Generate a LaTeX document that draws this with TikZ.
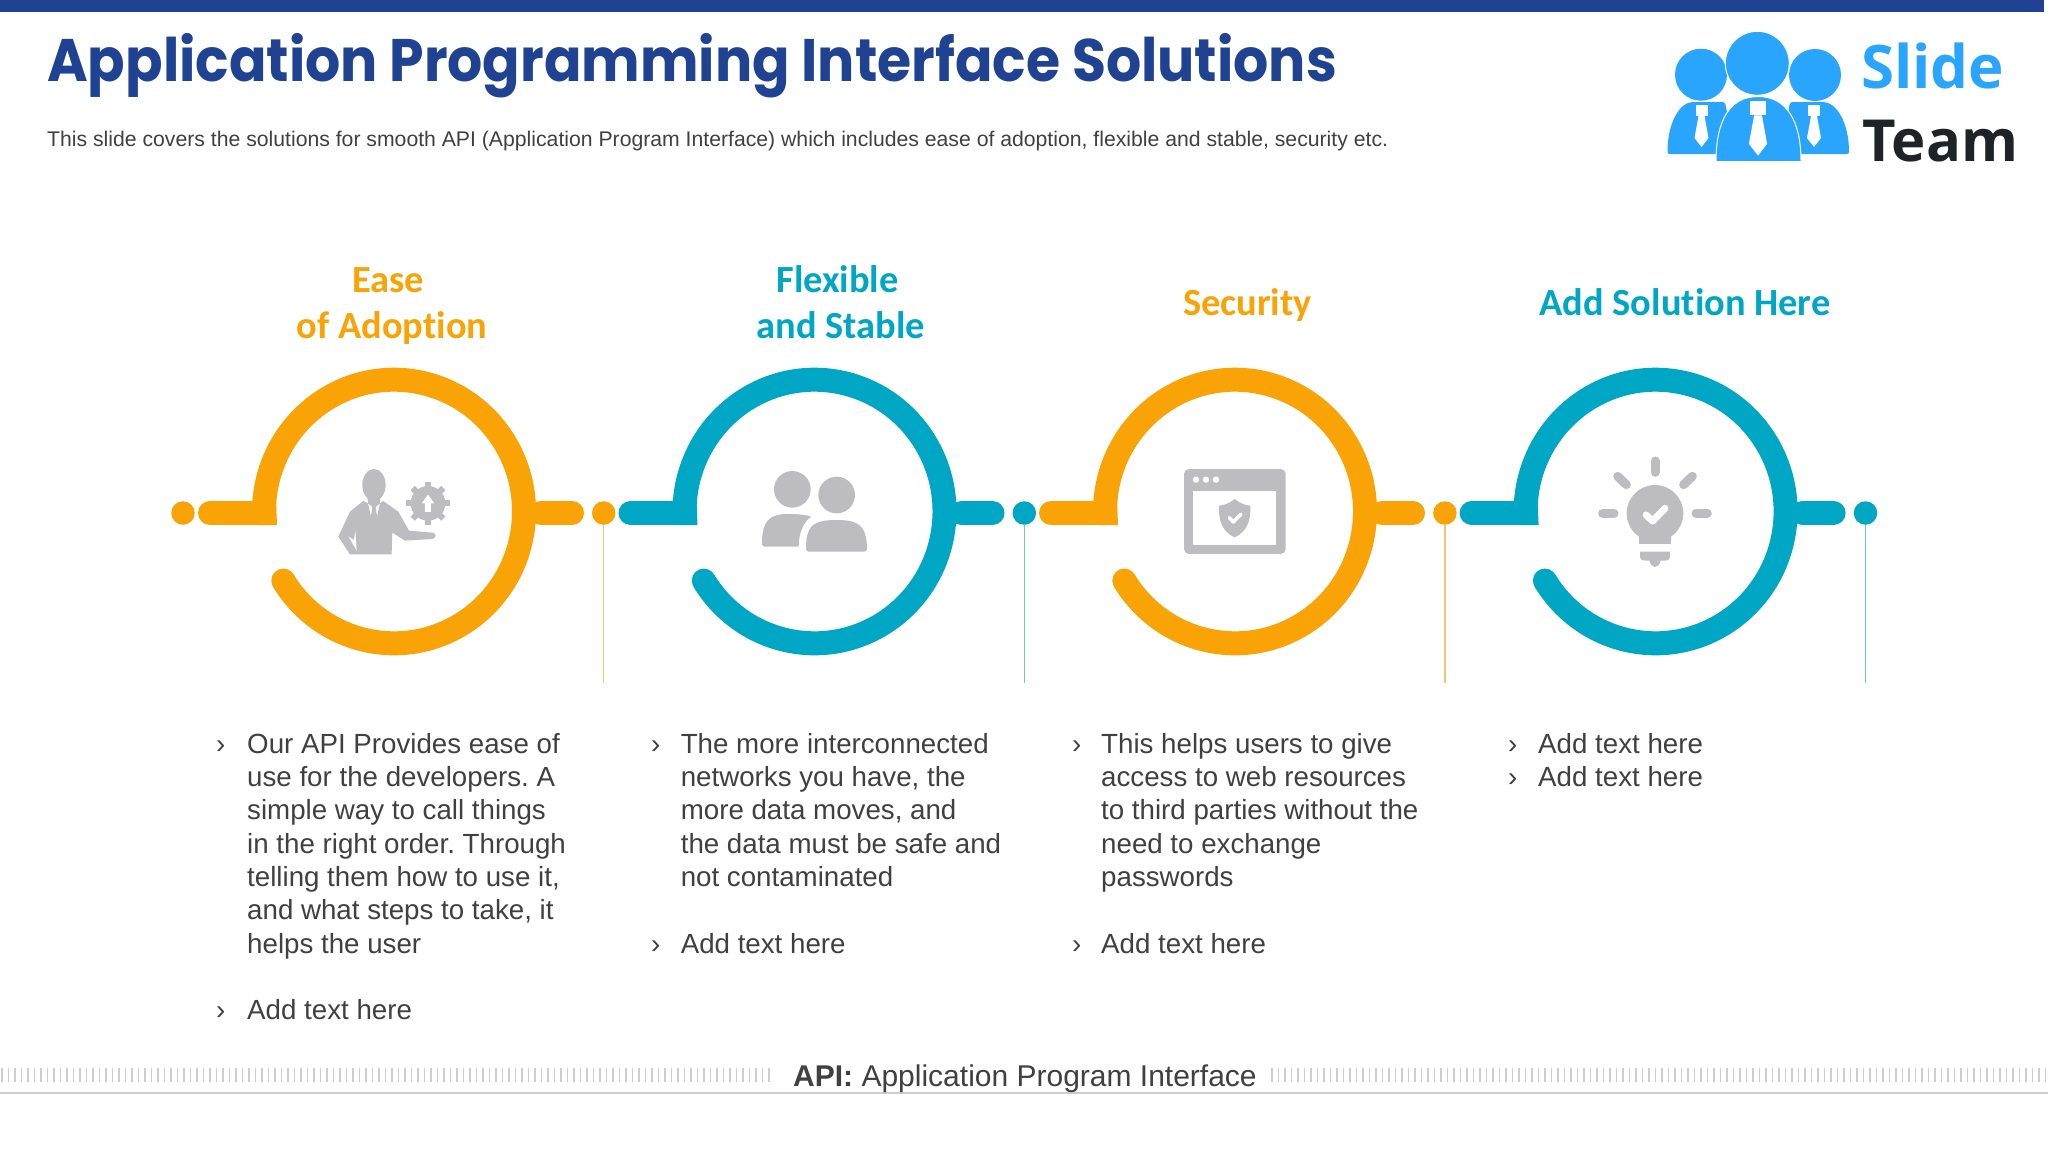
\documentclass[tikz,border=0pt]{standalone}
\usepackage{fontspec}
\frenchspacing
\setmainfont{Liberation Sans}
\newfontfamily\headfont[Ligatures=NoCommon]{Carlito}
\newfontfamily\titlefont[FakeStretch=0.9215]{Poppins}
\newfontfamily\logofont{Open Sans}
\newfontfamily\footfont{Liberation Sans}
\definecolor{brandorange}{HTML}{FAA307}
\definecolor{brandteal}{HTML}{00A7C4}
\definecolor{lineorange}{HTML}{F6C66F}
\definecolor{lineteal}{HTML}{66C9DA}
\definecolor{titleblue}{HTML}{1F4392}
\definecolor{bodygrey}{HTML}{404040}
\definecolor{icongrey}{HTML}{BDBCC0}
\definecolor{logoblue}{HTML}{2AA5FD}
\definecolor{logodark}{HTML}{1E2328}
\definecolor{tickgrey}{HTML}{CFCDD2}
\tikzset{
 ringarc/.style={line width=24pt,line cap=butt},
 barstub/.style={line width=24pt,line cap=round},
 enddot/.style={circle,inner sep=0pt,minimum size=23.5pt},
 dropline/.style={line width=1.4pt},
 headtxt/.style={font=\headfont\fontsize{38.4}{46}\selectfont\bfseries,align=center,anchor=base},
 bodytxt/.style={font=\fontsize{27.7}{33.3}\selectfont,text=bodygrey,align=left,anchor=north west,inner sep=0pt},
 chevtxt/.style={font=\fontsize{27.7}{33.3}\selectfont,text=bodygrey,anchor=base west,inner sep=0pt},
 tick/.style={tickgrey,line width=1.3pt},
}
\newcommand{\ringunit}[2]{%
 \pgfmathsetmacro{\cxa}{#1}
 \pgfmathsetmacro{\sx}{\cxa+130*cos(211.6)}
 \pgfmathsetmacro{\sy}{511.5-131.8*sin(211.6)}
 \draw[ringarc,#2] (\sx,\sy) arc[start angle=211.6,end angle=540,x radius=130pt,y radius=131.8pt];
 \fill[#2] (\sx,\sy) circle (12pt);
 \draw[barstub,#2] (\cxa-184,513) -- (\cxa-135,513);
 \fill[#2] (\cxa-135,501) -- (\cxa-118,501) -- (\cxa-117,525) -- (\cxa-135,525) -- cycle;
 \draw[barstub,#2] (\cxa+147,513) -- (\cxa+178,513);
}
\begin{document}
\begin{tikzpicture}[x=1pt,y=-1pt]
\useasboundingbox (0,0) rectangle (2048,1152);
\fill[white] (0,0) rectangle (2048,1152);
\fill[titleblue] (0,0) rectangle (2044,12);
\node[font=\titlefont\fontsize{60}{60}\selectfont\bfseries,text=titleblue,anchor=base west,inner sep=0pt] (title) at (47,81) {Application Programming Interface Solutions};
\node[font=\fontsize{21.2}{24}\selectfont,text=bodygrey,anchor=base west,inner sep=0pt] (subtitle) at (47,146) {This slide covers the solutions for smooth API (Application Program Interface) which includes ease of adoption, flexible and stable, security etc.};

% logo
\fill[logoblue] (1701,74.7) circle (26);
\fill[logoblue] (1815,75) circle (26);
\fill[logoblue,rounded corners=2pt] (1667.5,154) .. controls (1667.5,122) and (1680,102) .. (1695,102) -- (1725,102) -- (1735,154) -- cycle;
\fill[logoblue,rounded corners=2pt] (1849,154) .. controls (1849,122) and (1836,102) .. (1821,102) -- (1790,102) -- (1781,154) -- cycle;
\fill[logoblue,draw=white,line width=1pt] (1757.3,63.3) circle (32);
\fill[logoblue,draw=white,line width=1pt] (1716,161.5) .. controls (1716,120) and (1730,96.5) .. (1758,96.5) .. controls (1786,96.5) and (1801,120) .. (1801,161.5) -- cycle;
\foreach \tx/\ty/\ts in {1701.5/105/1,1814/105/1,1758/101/1.3}{
 \begin{scope}[shift={(\tx,\ty)},x=\ts pt,y=-\ts pt]
 \fill[white] (-6,0) rectangle (6,11);
 \fill[white] (-3,11) -- (3,11) -- (7,33) -- (0,42) -- (-7,33) -- cycle;
 \end{scope}
}
\node[font=\logofont\fontsize{60}{60}\selectfont\bfseries,text=logoblue,anchor=base west,inner sep=0pt] (slide) at (1861,88) {Slide};
\node[font=\logofont\fontsize{58}{58}\selectfont\bfseries,text=logodark,anchor=base west,inner sep=0pt] (team) at (1862,161) {Team};

% headings
\node[headtxt,text=brandorange] (h1a) at (388,292) {Ease};
\node[headtxt,text=brandorange] (h1b) at (392,338) {of Adoption};
\node[headtxt,text=brandteal] (h2a) at (837.5,292) {Flexible};
\node[headtxt,text=brandteal] (h2b) at (841,338) {and Stable};
\node[headtxt,text=brandorange] (h3) at (1247.5,315) {Security};
\node[headtxt,text=brandteal] (h4) at (1685,315) {Add Solution Here};

% rings
\ringunit{394}{brandorange}
\ringunit{814.5}{brandteal}
\ringunit{1235}{brandorange}
\ringunit{1655.6}{brandteal}

% dots and drop lines
\node[enddot,fill=brandorange] (d0) at (183,513) {};
\node[enddot,fill=brandorange] (d1) at (603.7,513) {};
\node[enddot,fill=brandteal] (d2) at (1024.3,513) {};
\node[enddot,fill=brandorange] (d3) at (1444.9,513) {};
\node[enddot,fill=brandteal] (d4) at (1865.5,513) {};
\coordinate (e1) at (603.7,683);
\coordinate (e2) at (1024.3,683);
\coordinate (e3) at (1444.9,683);
\coordinate (e4) at (1865.5,683);
\draw[dropline,lineorange] (d1) -- (e1);
\draw[dropline,lineteal] (d2) -- (e2);
\draw[dropline,lineorange] (d3) -- (e3);
\draw[dropline,lineteal] (d4) -- (e4);

% icon 1: person and gear
\begin{scope}[shift={(150,340)},x=0.3333pt,y=-0.3333pt]
 \fill[icongrey] (672,435) ellipse [x radius=35pt/3,y radius=48pt/3];
 \fill[icongrey] (652,455) -- (692,455) -- (690,490) -- (672,505) -- (654,490) -- cycle;
 \fill[icongrey] (640,483) -- (600,515) -- (565,590) -- (600,643) -- (725,643) -- (727,578) -- (765,602) -- (848,597) .. controls (860,592) and (860,580) .. (848,578) -- (777,572) -- (745,515) -- (700,483) -- (690,490) -- (672,570) -- (654,490) -- cycle;
 \fill[white] (596,590) -- (620,632) -- (616,572) -- (612,600) -- cycle;
 \fill[icongrey] (664,490) -- (680,490) -- (677,505) -- (686,555) -- (672,570) -- (658,555) -- (667,505) -- cycle;
 \foreach \a in {0,45,...,315}{
  \draw[icongrey,line width=6pt] ({834+40*cos(\a)},{490+40*sin(\a)}) -- ({834+65*cos(\a)},{490+65*sin(\a)});
 }
 \fill[icongrey] (834,490) circle (52);
 \fill[white] (834,464) -- (853,490) -- (843,490) -- (843,516) -- (825,516) -- (825,490) -- (815,490) -- cycle;
\end{scope}

% icon 2: two people
\begin{scope}[shift={(740,450)},x=0.3333pt,y=-0.3333pt]
 \fill[icongrey] (157,118) circle (55);
 \fill[icongrey] (290,135) circle (55);
 \fill[icongrey] (75,290) .. controls (66,290) and (66,285) .. (66,275) .. controls (68,215) and (85,192) .. (145,192) .. controls (175,192) and (195,194) .. (214,200) .. controls (190,215) and (176,250) .. (176,290) -- cycle;
 \fill[icongrey] (206,305) .. controls (198,305) and (198,300) .. (198,290) .. controls (200,230) and (215,210) .. (290,210) .. controls (360,210) and (378,230) .. (381,290) .. controls (381,300) and (381,305) .. (373,305) -- cycle;
\end{scope}

% icon 3: browser with shield
\begin{scope}[shift={(1150,440)},x=0.3333pt,y=-0.3333pt]
 \fill[icongrey,rounded corners=5pt] (102,87) rectangle (407,342);
 \fill[white] (129,152) rectangle (379,316);
 \foreach \dx in {138,168,198}{\fill[white] (\dx,119) circle (9.5);}
 \fill[icongrey] (254,177) .. controls (270,190) and (285,196) .. (301,197) .. controls (303,245) and (290,275) .. (254,292) .. controls (218,275) and (205,245) .. (207,197) .. controls (223,196) and (238,190) .. (254,177) -- cycle;
 \draw[white,line width=3.5pt,line cap=round,line join=round] (238,233) -- (250,246) -- (273,222);
\end{scope}

% icon 4: bulb
\begin{scope}[shift={(1570,440)},x=0.3333pt,y=-0.3333pt]
 \draw[icongrey,line width=9pt,line cap=round] (255,63) -- (255,97);
 \draw[icongrey,line width=9pt,line cap=round] (143,109) -- (169,134);
 \draw[icongrey,line width=9pt,line cap=round] (367,109) -- (341,134);
 \draw[icongrey,line width=9pt,line cap=round] (98,220) -- (132,220);
 \draw[icongrey,line width=9pt,line cap=round] (378,220) -- (412,220);
 \fill[icongrey] (255,220) circle (85);
 \fill[icongrey] (208,280) -- (208,312) -- (302,312) -- (302,280) -- cycle;
 \fill[icongrey] (210,335) -- (300,335) -- (300,352) .. controls (300,360) and (295,362) .. (272,362) .. controls (268,375) and (262,381) .. (255,381) .. controls (248,381) and (242,375) .. (238,362) .. controls (215,362) and (210,360) .. (210,352) -- cycle;
 \draw[white,line width=7pt,line cap=round,line join=round] (228,225) -- (248,243) -- (285,205);
\end{scope}

% body text
\node[bodytxt] (b1) at (247,733) {Our API Provides ease of\\use for the developers. A\\simple way to call things\\in the right order. Through\\telling them how to use it,\\and what steps to take, it\\helps the user\\[33.3pt]Add text here};
\node[bodytxt] (b2) at (680.6,733) {The more interconnected\\networks you have, the\\more data moves, and\\the data must be safe and\\not contaminated\\[33.3pt]Add text here};
\node[bodytxt] (b3) at (1101,733) {This helps users to give\\access to web resources\\to third parties without the\\need to exchange\\passwords\\[33.3pt]Add text here};
\node[bodytxt] (b4) at (1538,733) {Add text here\\Add text here};
\node[chevtxt] (c1a) at (216,753) {›};
\node[chevtxt] (c1b) at (216,1019.5) {›};
\node[chevtxt] (c2a) at (651,753) {›};
\node[chevtxt] (c2b) at (651,953) {›};
\node[chevtxt] (c3a) at (1072,753) {›};
\node[chevtxt] (c3b) at (1072,953) {›};
\node[chevtxt] (c4a) at (1508,753) {›};
\node[chevtxt] (c4b) at (1508,786.3) {›};

% footer
\foreach \tx in {2,8.5,...,775}{\draw[tick] (\tx,1068) -- (\tx,1082);}
\foreach \tx in {1272,1278.5,...,2048}{\draw[tick] (\tx,1068) -- (\tx,1082);}
\draw[tickgrey,line width=1.3pt] (0,1093) -- (2048,1093);
\node[font=\footfont\fontsize{30}{30}\selectfont,text=bodygrey,anchor=base west,inner sep=0pt] (foot) at (793,1086) {\textbf{API:} Application Program Interface};
\end{tikzpicture}
\end{document}
